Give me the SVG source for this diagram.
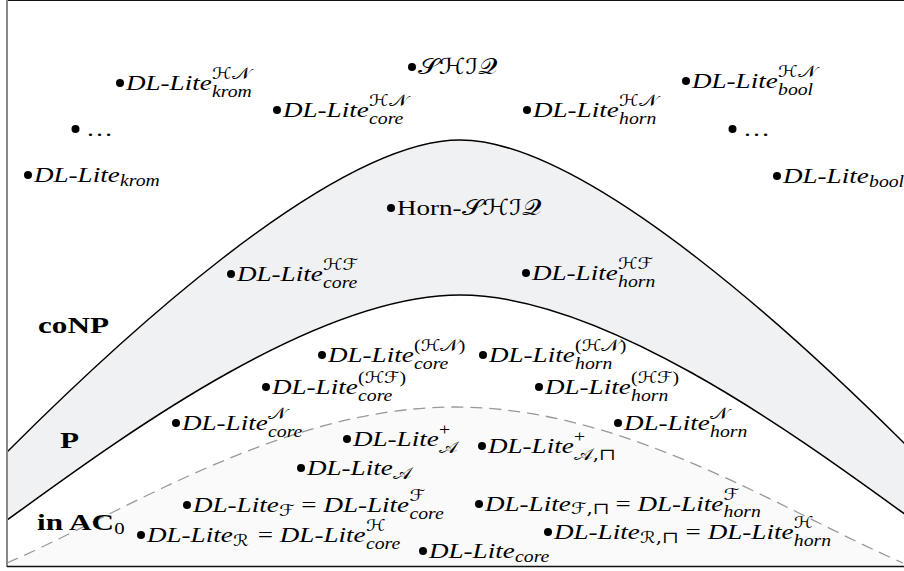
<svg xmlns="http://www.w3.org/2000/svg" width="904" height="571" viewBox="0 0 904 571">
<style>
.t{font-family:"Liberation Serif",serif;font-style:italic;font-size:22px;fill:#000}
.s{font-size:16px}
.c{font-family:"DejaVu Serif","DejaVu Sans",serif;font-style:normal}
.u{font-style:normal}
.b{font-family:"Liberation Serif",serif;font-weight:bold;font-size:24px;fill:#000}
.dot{fill:#000}
.curve{fill:none;stroke:#000;stroke-width:1.5}
.dash{fill:none;stroke:#999;stroke-width:1.3;stroke-dasharray:12 7}
</style>
<defs>
<clipPath id="frame"><rect x="7" y="0" width="897" height="567"/></clipPath>
</defs>
<rect width="904" height="571" fill="#fff"/>
<g id="regions" clip-path="url(#frame)">
<path d="M7,452 C107,352 330,140 460,140 C590,140 813,352 913,452 L913,571 L7,571 Z" fill="#f0f1f3"/>
<path d="M7,520 C107,448 310,295 460,295 C610,295 813,448 913,520 L913,571 L7,571 Z" fill="#fff"/>
<path d="M7,563 C127,511 285,407 455,407 C625,407 783,511 903,563 L903,571 L7,571 Z" fill="#fafafa"/>
</g>
<g id="connectors" clip-path="url(#frame)">
<path class="curve" d="M7,452 C107,352 330,140 460,140 C590,140 813,352 913,452"/>
<path class="curve" d="M7,520 C107,448 310,295 460,295 C610,295 813,448 913,520"/>
<path class="dash" d="M7,563 C127,511 285,407 455,407 C625,407 783,511 903,563"/>
</g>
<g id="frame-lines">
<line x1="7" y1="0.5" x2="904" y2="0.5" stroke="#111" stroke-width="1.2"/>
<line x1="7" y1="0" x2="7" y2="567" stroke="#888" stroke-width="2"/>
<line x1="7" y1="566.5" x2="904" y2="566.5" stroke="#111" stroke-width="1.5"/>
</g>
<g id="class-labels">
<text class="b" transform="translate(38 333) scale(1.3 1)">coNP</text>
<text class="b" transform="translate(60 448) scale(1.3 1)">P</text>
<text class="b" transform="translate(37 530) scale(1.3 1)">in AC<tspan font-weight="normal" font-size="16" dy="4">0</tspan></text>
</g>
<g id="n-hn-krom" transform="translate(116 90)"><circle class="dot" cx="4" cy="-7" r="4"/><text class="t" transform="translate(10 0) scale(1.23 1)">DL-Lite<tspan class="s c" x="70" y="-11">ℋ𝒩</tspan><tspan class="s" x="70" y="7">krom</tspan></text></g>
<g id="n-shiq" transform="translate(408 74)"><circle class="dot" cx="4" cy="-7" r="4"/><text class="t c" transform="translate(10 0) scale(1.23 1)">𝒮ℋℐ𝒬</text></g>
<g id="n-hn-core" transform="translate(273 117)"><circle class="dot" cx="4" cy="-7" r="4"/><text class="t" transform="translate(10 0) scale(1.23 1)">DL-Lite<tspan class="s c" x="70" y="-11">ℋ𝒩</tspan><tspan class="s" x="70" y="7">core</tspan></text></g>
<g id="n-hn-horn" transform="translate(523 117)"><circle class="dot" cx="4" cy="-7" r="4"/><text class="t" transform="translate(10 0) scale(1.23 1)">DL-Lite<tspan class="s c" x="70" y="-11">ℋ𝒩</tspan><tspan class="s" x="70" y="7">horn</tspan></text></g>
<g id="n-hn-bool" transform="translate(682 88)"><circle class="dot" cx="4" cy="-7" r="4"/><text class="t" transform="translate(10 0) scale(1.23 1)">DL-Lite<tspan class="s c" x="70" y="-11">ℋ𝒩</tspan><tspan class="s" x="70" y="7">bool</tspan></text></g>
<g id="n-dots-left" transform="translate(71 136)"><circle class="dot" cx="4.5" cy="-7" r="4"/><text class="t u" transform="translate(15 0) scale(1.23 1)">…</text></g>
<g id="n-dots-right" transform="translate(728 136)"><circle class="dot" cx="4.5" cy="-7" r="4"/><text class="t u" transform="translate(15 0) scale(1.23 1)">…</text></g>
<g id="n-krom" transform="translate(24 182)"><circle class="dot" cx="4" cy="-7" r="4"/><text class="t" transform="translate(10 0) scale(1.23 1)">DL-Lite<tspan class="s" x="70" y="4">krom</tspan></text></g>
<g id="n-bool" transform="translate(773 183)"><circle class="dot" cx="4" cy="-7" r="4"/><text class="t" transform="translate(10 0) scale(1.23 1)">DL-Lite<tspan class="s" x="70" y="4">bool</tspan></text></g>
<g id="n-horn-shiq" transform="translate(387 215)"><circle class="dot" cx="4" cy="-7" r="4"/><text class="t u" transform="translate(10 0) scale(1.23 1)">Horn-<tspan class="c">𝒮ℋℐ𝒬</tspan></text></g>
<g id="n-hf-core" transform="translate(227 281)"><circle class="dot" cx="4" cy="-7" r="4"/><text class="t" transform="translate(10 0) scale(1.23 1)">DL-Lite<tspan class="s c" x="70" y="-11">ℋℱ</tspan><tspan class="s" x="70" y="7">core</tspan></text></g>
<g id="n-hf-horn" transform="translate(522 280)"><circle class="dot" cx="4" cy="-7" r="4"/><text class="t" transform="translate(10 0) scale(1.23 1)">DL-Lite<tspan class="s c" x="70" y="-11">ℋℱ</tspan><tspan class="s" x="70" y="7">horn</tspan></text></g>
<g id="n-phn-core" transform="translate(318 362)"><circle class="dot" cx="4" cy="-7" r="4"/><text class="t" transform="translate(10 0) scale(1.23 1)">DL-Lite<tspan class="s u" x="70" y="-11">(<tspan class="c">ℋ𝒩</tspan>)</tspan><tspan class="s" x="70" y="7">core</tspan></text></g>
<g id="n-phn-horn" transform="translate(479 362)"><circle class="dot" cx="4" cy="-7" r="4"/><text class="t" transform="translate(10 0) scale(1.23 1)">DL-Lite<tspan class="s u" x="70" y="-11">(<tspan class="c">ℋ𝒩</tspan>)</tspan><tspan class="s" x="70" y="7">horn</tspan></text></g>
<g id="n-phf-core" transform="translate(262 394)"><circle class="dot" cx="4" cy="-7" r="4"/><text class="t" transform="translate(10 0) scale(1.23 1)">DL-Lite<tspan class="s u" x="70" y="-11">(<tspan class="c">ℋℱ</tspan>)</tspan><tspan class="s" x="70" y="7">core</tspan></text></g>
<g id="n-phf-horn" transform="translate(535 394)"><circle class="dot" cx="4" cy="-7" r="4"/><text class="t" transform="translate(10 0) scale(1.23 1)">DL-Lite<tspan class="s u" x="70" y="-11">(<tspan class="c">ℋℱ</tspan>)</tspan><tspan class="s" x="70" y="7">horn</tspan></text></g>
<g id="n-n-core" transform="translate(172 430)"><circle class="dot" cx="4" cy="-7" r="4"/><text class="t" transform="translate(10 0) scale(1.23 1)">DL-Lite<tspan class="s c" x="70" y="-11">𝒩</tspan><tspan class="s" x="70" y="7">core</tspan></text></g>
<g id="n-n-horn" transform="translate(614 430)"><circle class="dot" cx="4" cy="-7" r="4"/><text class="t" transform="translate(10 0) scale(1.23 1)">DL-Lite<tspan class="s c" x="70" y="-11">𝒩</tspan><tspan class="s" x="70" y="7">horn</tspan></text></g>
<g id="n-plus-a" transform="translate(343 446)"><circle class="dot" cx="4" cy="-7" r="4"/><text class="t" transform="translate(10 0) scale(1.23 1)">DL-Lite<tspan class="s u" x="70" y="-11">+</tspan><tspan class="s c" x="70" y="7">𝒜</tspan></text></g>
<g id="n-plus-a-meet" transform="translate(478 453)"><circle class="dot" cx="4" cy="-7" r="4"/><text class="t" transform="translate(10 0) scale(1.23 1)">DL-Lite<tspan class="s u" x="70" y="-11">+</tspan><tspan class="s c" x="70" y="7">𝒜,⊓</tspan></text></g>
<g id="n-a" transform="translate(297 475)"><circle class="dot" cx="4" cy="-7" r="4"/><text class="t" transform="translate(10 0) scale(1.23 1)">DL-Lite<tspan class="s c" x="70" y="4">𝒜</tspan></text></g>
<g id="n-f" transform="translate(183 512)"><circle class="dot" cx="4" cy="-7" r="4"/><text class="t" transform="translate(10 0) scale(1.23 1)">DL-Lite<tspan class="s c" x="70" y="4">ℱ</tspan><tspan class="u" x="88" y="0">=</tspan><tspan x="106" y="0">DL-Lite</tspan><tspan class="s c" x="176" y="-11">ℱ</tspan><tspan class="s" x="176" y="7">core</tspan></text></g>
<g id="n-f-meet" transform="translate(475 511)"><circle class="dot" cx="4" cy="-7" r="4"/><text class="t" transform="translate(10 0) scale(1.23 1)">DL-Lite<tspan class="s c" x="70" y="3">ℱ,⊓</tspan><tspan class="u" x="106" y="0">=</tspan><tspan x="124" y="0">DL-Lite</tspan><tspan class="s c" x="194" y="-11">ℱ</tspan><tspan class="s" x="194" y="6">horn</tspan></text></g>
<g id="n-r" transform="translate(137 542)"><circle class="dot" cx="4" cy="-7" r="4"/><text class="t" transform="translate(10 0) scale(1.23 1)">DL-Lite<tspan class="s c" x="70" y="4">ℛ</tspan><tspan class="u" x="90" y="0">=</tspan><tspan x="108" y="0">DL-Lite</tspan><tspan class="s c" x="178" y="-11">ℋ</tspan><tspan class="s" x="178" y="7">core</tspan></text></g>
<g id="n-core" transform="translate(419 558)"><circle class="dot" cx="4" cy="-7" r="4"/><text class="t" transform="translate(10 0) scale(1.23 1)">DL-Lite<tspan class="s" x="70" y="4">core</tspan></text></g>
<g id="n-r-meet" transform="translate(544 539)"><circle class="dot" cx="4" cy="-7" r="4"/><text class="t" transform="translate(10 0) scale(1.23 1)">DL-Lite<tspan class="s c" x="70" y="4">ℛ,⊓</tspan><tspan class="u" x="107" y="0">=</tspan><tspan x="125" y="0">DL-Lite</tspan><tspan class="s c" x="195" y="-11">ℋ</tspan><tspan class="s" x="195" y="7">horn</tspan></text></g>
</svg>
